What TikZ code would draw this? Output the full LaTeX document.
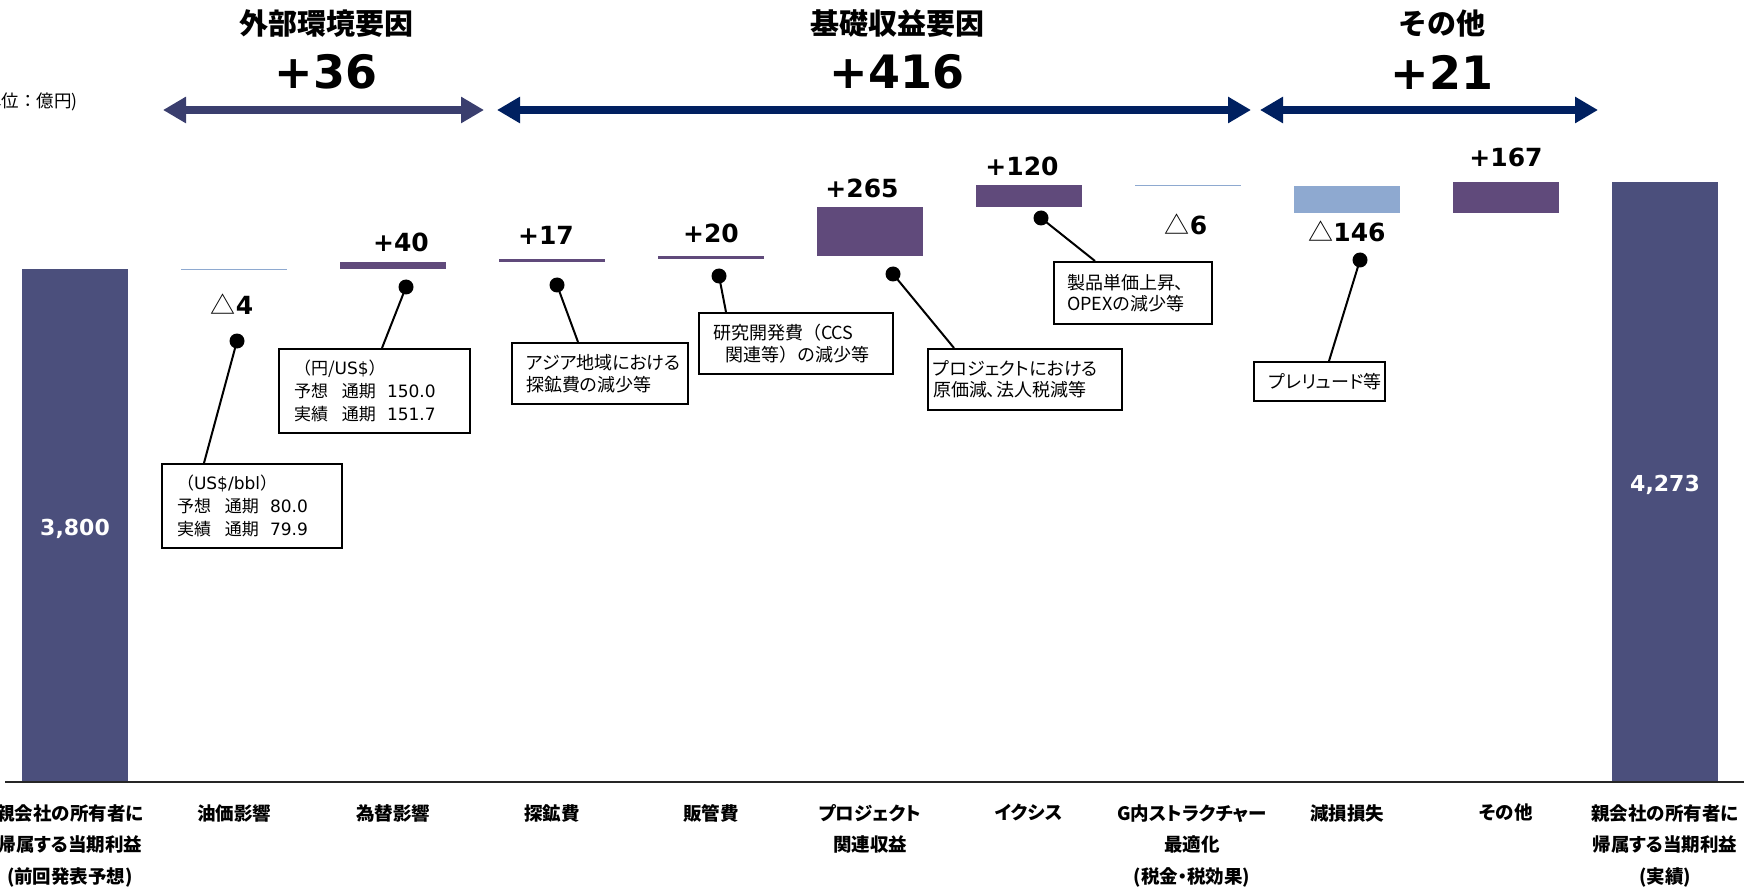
\documentclass[tikz,border=0pt]{standalone}
\usepackage{fontspec}
\setmainfont{Noto Sans CJK JP}
\newfontfamily\numfont{DejaVu Sans}
\newfontfamily\propfont{Noto Sans CJK JP}[RawFeature=+palt]
\usetikzlibrary{arrows.meta}

\definecolor{barslate}{HTML}{4B4F7C}
\definecolor{barplum}{HTML}{604A7B}
\definecolor{barsky}{HTML}{8EA9D0}
\definecolor{spanslate}{HTML}{3A3E6E}
\definecolor{spannavy}{HTML}{002060}

\newcommand{\setfs}[2]{\fontsize{#1pt}{#2pt}\selectfont}

\tikzset{
  spanarrow/.style={line width=7.5pt, {Triangle[length=23pt,width=25pt]}-{Triangle[length=23pt,width=25pt]}},
  grouptitle/.style={font=\bfseries\setfs{29}{34}, inner sep=0pt},
  grouptotal/.style={font=\numfont\bfseries\setfs{46}{50}, inner sep=0pt},
  deltalabel/.style={font=\numfont\bfseries\setfs{25}{30}, inner sep=0pt},
  barvalue/.style={font=\numfont\bfseries\setfs{22}{26}, text=white, inner sep=0pt},
  catlabel/.style={font=\propfont\bfseries\setfs{18.5}{31.5}, align=center, anchor=north, inner sep=0pt},
  notebox/.style={draw, line width=2pt, align=left, anchor=north west, inner ysep=0pt},
  leaddot/.style={circle, fill, inner sep=0pt, minimum size=15pt},
  leadline/.style={line width=2pt}
}

\begin{document}
\begin{tikzpicture}[x=1pt, y=-1pt]
  \useasboundingbox (0,0) rectangle (1744,890);

  % Define points
  \coordinate (ext west) at (163,110);
  \coordinate (ext east) at (484,110);
  \coordinate (base west) at (497,110);
  \coordinate (base east) at (1251,110);
  \coordinate (misc west) at (1260,110);
  \coordinate (misc east) at (1598,110);
  \coordinate (axis west) at (5,782);
  \coordinate (axis east) at (1744,782);

  % Group headers
  \node[grouptitle] (exttitle) at (326,24) {外部環境要因};
  \node[grouptotal] (exttotal) at (326,72) {+36};
  \node[grouptitle] (basetitle) at (897,24) {基礎収益要因};
  \node[grouptotal] (basetotal) at (897,72) {+416};
  \node[grouptitle] (misctitle) at (1442,24) {その他};
  \node[grouptotal] (misctotal) at (1442,72) {+21};
  \node[anchor=east, font=\setfs{17.5}{20}, inner sep=0pt] (unitnote) at (78,102) {(単位：億円)};

  % Draw span arrows
  \draw[spanarrow, spanslate] (ext west) -- (ext east);
  \draw[spanarrow, spannavy] (base west) -- (base east);
  \draw[spanarrow, spannavy] (misc west) -- (misc east);

  % Draw bars
  \fill[barslate] (22,269) rectangle (128,782);
  \fill[barsky] (181,268.6) rectangle (287,270);
  \fill[barplum] (340,262.4) rectangle (446,269);
  \fill[barplum] (499,259.2) rectangle (605,262.4);
  \fill[barplum] (658,255.6) rectangle (764,259.2);
  \fill[barplum] (817,206.8) rectangle (923,255.6);
  \fill[barplum] (976,184.8) rectangle (1082,206.8);
  \fill[barsky] (1135,184.6) rectangle (1241,186);
  \fill[barsky] (1294,185.9) rectangle (1400,212.7);
  \fill[barplum] (1453,182) rectangle (1559,212.7);
  \fill[barslate] (1612,182) rectangle (1718,782);
  \draw[line width=2.2pt, black!85] (axis west) -- (axis east);

  % Label bars
  \node[barvalue] (startval) at (75,529) {3,800};
  \node[barvalue] (endval) at (1665,485) {4,273};
  \node[deltalabel] (oilval) at (232,304) {{\rmfamily\mdseries △}4};
  \node[deltalabel] (fxval) at (401,242) {+40};
  \node[deltalabel] (expval) at (546,235) {+17};
  \node[deltalabel] (sgaval) at (711,233) {+20};
  \node[deltalabel] (projval) at (862,188) {+265};
  \node[deltalabel] (ichval) at (1022,166) {+120};
  \node[deltalabel] (grpval) at (1186,224) {{\rmfamily\mdseries △}6};
  \node[deltalabel] (impval) at (1347,231) {{\rmfamily\mdseries △}146};
  \node[deltalabel] (othval) at (1506,157) {+167};

  % Category names
  \node[catlabel] (startcat) at (70,804) {親会社の所有者に\\帰属する当期利益\\(前回発表予想)};
  \node[catlabel] (oilcat) at (234,804) {油価影響};
  \node[catlabel] (fxcat) at (393,804) {為替影響};
  \node[catlabel] (expcat) at (552,804) {探鉱費};
  \node[catlabel] (sgacat) at (711,804) {販管費};
  \node[catlabel] (projcat) at (870,804) {プロジェクト\\関連収益};
  \node[catlabel] (ichcat) at (1029,804) {イクシス};
  \node[catlabel] (grpcat) at (1192,804) {G内ストラクチャー\\最適化\\(税金・税効果)};
  \node[catlabel] (impcat) at (1347,804) {減損損失};
  \node[catlabel] (othcat) at (1506,804) {その他};
  \node[catlabel] (endcat) at (1665,804) {親会社の所有者に\\帰属する当期利益\\(実績)};

  % Callouts
  \node[leaddot] (oildot) at (237,341) {};
  \node[notebox, text width=150pt, inner xsep=15pt, minimum height=84pt, font=\setfs{17}{23}] (oilnote) at (161,463)
    {（{\numfont US\$/bbl}）\\予想\hspace{14pt}通期\hspace{11pt}{\numfont 80.0}\\実績\hspace{14pt}通期\hspace{11pt}{\numfont 79.9}};
  \draw[leadline] (oildot.center) -- ([xshift=43pt]oilnote.north west);

  \node[leaddot] (fxdot) at (406,287) {};
  \node[notebox, text width=161pt, inner xsep=15pt, minimum height=84pt, font=\setfs{17}{23}] (fxnote) at (278,348)
    {（円/{\numfont US\$}）\\予想\hspace{14pt}通期\hspace{11pt}{\numfont 150.0}\\実績\hspace{14pt}通期\hspace{11pt}{\numfont 151.7}};
  \draw[leadline] (fxdot.center) -- ([xshift=104pt]fxnote.north west);

  \node[leaddot] (expdot) at (557,285) {};
  \node[notebox, text width=148pt, inner xsep=14pt, minimum height=61pt, font=\propfont\setfs{18}{21.5}] (expnote) at (511,342)
    {アジア地域における\\探鉱費の減少等};
  \draw[leadline] (expdot.center) -- ([xshift=67pt]expnote.north west);

  \node[leaddot] (sgadot) at (719,276) {};
  \node[notebox, text width=166pt, inner xsep=14pt, minimum height=61pt, font=\setfs{18}{21.5}] (sganote) at (698,312)
    {研究開発費（CCS\\\hspace*{12pt}関連等）の減少等};
  \draw[leadline] (sgadot.center) -- ([xshift=28pt]sganote.north west);

  \node[leaddot] (projdot) at (893,274) {};
  \node[notebox, text width=184pt, inner xsep=5pt, minimum height=61pt, font=\propfont\setfs{18}{21.5}] (projnote) at (927,348)
    {プロジェクトにおける\\原価減、法人税減等};
  \draw[leadline] (projdot.center) -- ([xshift=27pt]projnote.north west);

  \node[leaddot] (ichdot) at (1041,218) {};
  \node[notebox, text width=132pt, inner xsep=13pt, minimum height=62pt, font=\propfont\setfs{18}{21.5}] (ichnote) at (1053,261)
    {製品単価上昇、\\OPEXの減少等};
  \draw[leadline] (ichdot.center) -- ([xshift=42pt]ichnote.north west);

  \node[leaddot] (impdot) at (1360,260) {};
  \node[notebox, text width=101pt, inner xsep=15pt, minimum height=39pt, font=\propfont\setfs{18}{21.5}] (impnote) at (1253,361)
    {プレリュード等};
  \draw[leadline] (impdot.center) -- ([xshift=76pt]impnote.north west);

\end{tikzpicture}
\end{document}
